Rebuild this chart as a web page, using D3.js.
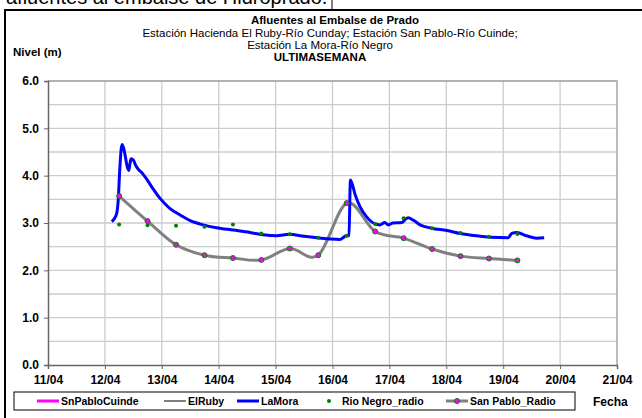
<!DOCTYPE html>
<html>
<head>
<meta charset="utf-8">
<script src="https://cdn.jsdelivr.net/npm/d3@7/dist/d3.min.js"></script>
<style>
  body { margin: 0; background: #fff; }
  svg { display: block; font-family: "Liberation Sans", Arial, sans-serif; }
</style>
</head>
<body>
<div id="chart"></div>
<script>
// 轴刻度
const dayTicks = [11, 12, 13, 14, 15, 16, 17, 18, 19, 20, 21];
const dayLabels = ["11/04", "12/04", "13/04", "14/04", "15/04", "16/04", "17/04", "18/04", "19/04", "20/04", "21/04"];
const levelTicks = [0, 1, 2, 3, 4, 5, 6];

// LaMora (día de abril, nivel m)
const laMoraDay = [12.12, 12.17, 12.21, 12.235, 12.26, 12.285, 12.30, 12.33, 12.36, 12.39, 12.42, 12.44, 12.46, 12.50,
  12.54, 12.59, 12.65, 12.71, 12.82, 12.97, 13.14, 13.32, 13.50, 13.73, 13.96, 14.26, 14.55, 14.78, 15.02, 15.24,
  15.50, 15.73, 15.96, 16.13, 16.22, 16.29, 16.315, 16.40, 16.48, 16.60, 16.75, 16.83, 16.92, 16.98, 17.06, 17.22,
  17.28, 17.33, 17.42, 17.54, 17.74, 18.01, 18.24, 18.53, 18.77, 19.09, 19.15, 19.24, 19.41, 19.59, 19.72];
const laMoraLevel = [3.03, 3.10, 3.22, 3.50, 4.10, 4.55, 4.66, 4.58, 4.40, 4.20, 4.11, 4.25, 4.36, 4.33,
  4.22, 4.13, 4.06, 3.97, 3.77, 3.52, 3.31, 3.17, 3.05, 2.96, 2.90, 2.85, 2.80, 2.75, 2.73, 2.76,
  2.72, 2.69, 2.66, 2.65, 2.72, 2.74, 3.91, 3.59, 3.35, 3.13, 2.98, 2.96, 3.01, 2.96, 3.00, 3.01,
  3.08, 3.11, 3.06, 2.96, 2.89, 2.84, 2.78, 2.73, 2.70, 2.69, 2.78, 2.80, 2.73, 2.68, 2.69];

// lecturas de radio (06:00 y 18:00)
const radioDay = [12.25, 12.75, 13.25, 13.75, 14.25, 14.75, 15.25, 15.75, 16.25, 16.75, 17.25, 17.75, 18.25, 18.75, 19.25];
const rioNegroRadio = [2.97, 2.95, 2.94, 2.92, 2.97, 2.78, 2.76, 2.69, 2.73, 2.98, 3.10, 2.89, 2.79, 2.71, 2.77];
const sanPabloRadio = [3.57, 3.04, 2.54, 2.32, 2.26, 2.22, 2.46, 2.32, 3.42, 2.82, 2.68, 2.45, 2.30, 2.25, 2.21];

const W = 642, H = 418;
const plot = { left: 48, right: 617, top: 81, bottom: 365 };

const svg = d3.select("#chart").append("svg").attr("width", W).attr("height", H);

const x = d3.scaleLinear().domain([11, 21]).range([plot.left, plot.right]);
const y = d3.scaleLinear().domain([0, 6]).range([plot.bottom, plot.top]);

// texto cortado arriba + marco
svg.append("text").attr("x", 6).attr("y", 4).style("font-size", "20px")
  .text("afluentes al embalse de Hidroprado.");
svg.append("line").attr("x1", 332).attr("x2", 332).attr("y1", 0).attr("y2", 10)
  .attr("stroke", "#000").attr("stroke-width", 1);
svg.append("path").attr("d", `M5,${H + 2}V10H${W + 2}`)
  .attr("fill", "none").attr("stroke", "#000").attr("stroke-width", 2);

// títulos
const titles = [
  { t: "Afluentes al Embalse de Prado", cx: 335, y: 24, bold: true },
  { t: "Estación Hacienda El Ruby-Río Cunday; Estación San Pablo-Río Cuinde;", cx: 330, y: 37, bold: false },
  { t: "Estación La Mora-Río Negro", cx: 320, y: 49, bold: false },
  { t: "ULTIMASEMANA", cx: 320, y: 61, bold: true }
];
titles.forEach(d => {
  svg.append("text").attr("x", d.cx).attr("y", d.y).attr("text-anchor", "middle")
    .style("font-size", "11.5px").style("font-weight", d.bold ? "bold" : "normal").text(d.t);
});
svg.append("text").attr("x", 13).attr("y", 56).style("font-size", "11.5px").style("font-weight", "bold").text("Nivel (m)");

// rejilla
const grid = svg.append("g");
grid.selectAll(".hg").data(d3.range(0.5, 6, 0.5)).join("line")
  .attr("x1", plot.left).attr("x2", plot.right).attr("y1", d => y(d)).attr("y2", d => y(d))
  .attr("stroke", "#cccccc").attr("stroke-width", 1.3);
grid.selectAll(".vg").data(dayTicks.slice(1, -1)).join("line")
  .attr("x1", d => x(d)).attr("x2", d => x(d)).attr("y1", plot.top).attr("y2", plot.bottom)
  .attr("stroke", "#cccccc").attr("stroke-width", 1.3);
svg.append("path").attr("d", `M${plot.left},${plot.top}H${plot.right}V${plot.bottom}`)
  .attr("fill", "none").attr("stroke", "#999").attr("stroke-width", 1.3);

// ejes
svg.append("g").attr("transform", `translate(${plot.left},0)`)
  .call(d3.axisLeft(y).tickValues(levelTicks).tickSize(4).tickPadding(5).tickFormat(d3.format(".1f")))
  .call(g => g.select(".domain").attr("stroke", "#666").attr("stroke-width", 1.5))
  .call(g => g.selectAll(".tick line").attr("stroke", "#666"))
  .call(g => g.selectAll(".tick text").attr("fill", "#000").style("font-size", "12px").style("font-weight", "bold")
    .style("font-family", "Liberation Sans, Arial"));

svg.append("g").attr("transform", `translate(0,${plot.bottom})`)
  .call(d3.axisBottom(x).tickValues(dayTicks).tickSize(4).tickPadding(6).tickFormat((d, i) => dayLabels[i]))
  .call(g => g.select(".domain").attr("stroke", "#666").attr("stroke-width", 1.5))
  .call(g => g.selectAll(".tick line").attr("stroke", "#666"))
  .call(g => g.selectAll(".tick text").attr("fill", "#000").style("font-size", "12px").style("font-weight", "bold")
    .style("font-family", "Liberation Sans, Arial"));

// series
const laMora = laMoraDay.map((d, i) => [d, laMoraLevel[i]]);
const sanPablo = radioDay.map((d, i) => [d, sanPabloRadio[i]]);
const rioNegro = radioDay.map((d, i) => [d, rioNegroRadio[i]]);

svg.append("path").datum(sanPablo)
  .attr("d", d3.line().x(d => x(d[0])).y(d => y(d[1])).curve(d3.curveCardinal.tension(0)))
  .attr("fill", "none").attr("stroke", "#808080").attr("stroke-width", 3);

svg.append("path").datum(laMora)
  .attr("d", d3.line().x(d => x(d[0])).y(d => y(d[1])).curve(d3.curveMonotoneX))
  .attr("fill", "none").attr("stroke", "#0000ff").attr("stroke-width", 3).attr("stroke-linejoin", "round");

svg.selectAll(".sp").data(sanPablo).join("circle")
  .attr("cx", d => x(d[0])).attr("cy", d => y(d[1])).attr("r", 2.5)
  .attr("fill", "#ff00ff").attr("stroke", "#008000").attr("stroke-width", 1);

svg.selectAll(".rn").data(rioNegro).join("circle")
  .attr("cx", d => x(d[0])).attr("cy", d => y(d[1])).attr("r", 2)
  .attr("fill", "#008000");

// leyenda
const ly = 401;
const leg = svg.append("g").style("font-size", "10.5px").style("font-weight", "bold");
leg.append("rect").attr("x", 14).attr("y", 392).attr("width", 561).attr("height", 18)
  .attr("fill", "#fff").attr("stroke", "#000");
const items = [
  { name: "SnPabloCuinde", x0: 37, color: "#ff00ff", w: 3 },
  { name: "ElRuby", x0: 164, color: "#000", w: 1 },
  { name: "LaMora", x0: 237, color: "#0000ff", w: 3 },
  { name: "Rio Negro_radio", x0: 318, color: null, w: 0 },
  { name: "San Pablo_Radio", x0: 446, color: "#808080", w: 3 }
];
items.forEach(it => {
  if (it.color) {
    leg.append("line").attr("x1", it.x0).attr("x2", it.x0 + 22).attr("y1", ly).attr("y2", ly)
      .attr("stroke", it.color).attr("stroke-width", it.w);
  }
  if (it.name === "Rio Negro_radio") {
    leg.append("circle").attr("cx", it.x0 + 11).attr("cy", ly).attr("r", 2).attr("fill", "#008000");
  }
  if (it.name === "San Pablo_Radio") {
    leg.append("circle").attr("cx", it.x0 + 11).attr("cy", ly).attr("r", 2.5)
      .attr("fill", "#ff00ff").attr("stroke", "#008000");
  }
  leg.append("text").attr("x", it.x0 + 24).attr("y", ly + 4).text(it.name);
});
svg.append("text").attr("x", 593).attr("y", 406).style("font-size", "12px").style("font-weight", "bold").text("Fecha");
</script>
</body>
</html>
